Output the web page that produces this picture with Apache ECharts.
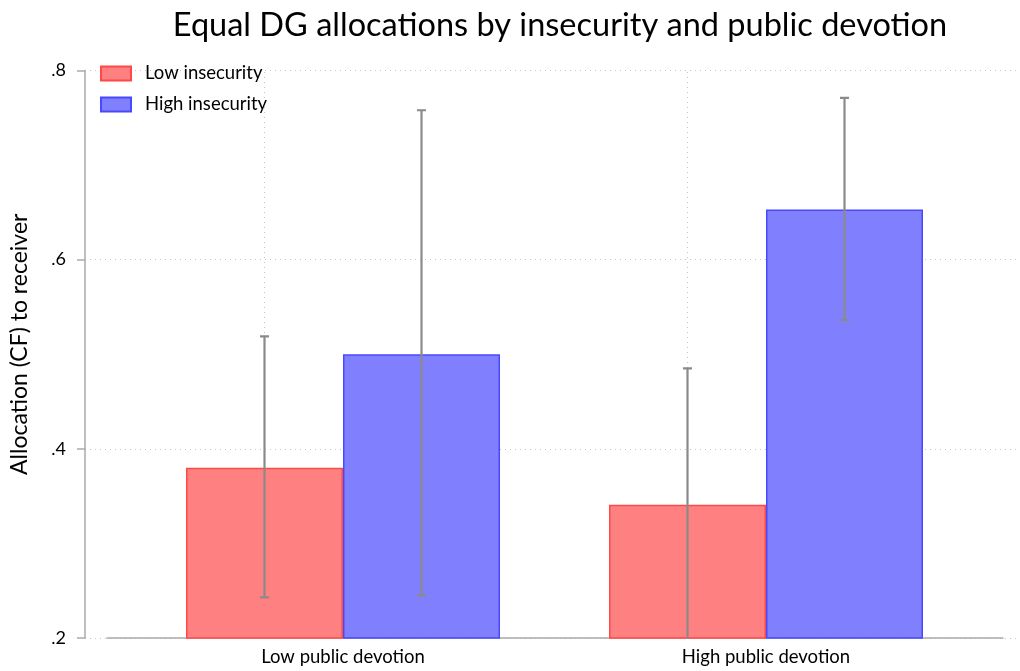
<!DOCTYPE html>
<html>
<head>
<meta charset="utf-8">
<script src="https://cdn.jsdelivr.net/npm/echarts@6/dist/echarts.min.js"></script>
<style>
  html, body { margin: 0; padding: 0; background: #fff; }
  #chart { width: 1020px; height: 671px; }
</style>
</head>
<body>
<div id="chart"></div>
<script>
// Group labels along the x axis
const categories = ['Low public devotion', 'High public devotion'];
// Mean allocation per group
const lowInsecurity = [0.380, 0.341];
const highInsecurity = [0.500, 0.653];
// 95% confidence bounds [lower, upper]
const lowInsecurityCI = [[0.243, 0.519], [0.197, 0.485]];
const highInsecurityCI = [[0.245, 0.758], [0.536, 0.771]];
// Y axis ticks
const yTicks = [0.2, 0.4, 0.6, 0.8];

const FONT = 'Lato, "Open Sans", sans-serif';
const BAR_W = 157;
const RED_FILL = '#ff8080', RED_EDGE = '#ff4848';
const BLUE_FILL = '#8080ff', BLUE_EDGE = '#4848ff';
const ERR_COLOR = '#8a8a8a';

const chart = echarts.init(document.getElementById('chart'), null, { renderer: 'canvas' });

function errorSeries(name, ci, side) {
  return {
    type: 'custom',
    name: name + ' CI',
    xAxisIndex: 0,
    yAxisIndex: 0,
    clip: true,
    silent: true,
    z: 5,
    data: ci.map((d, i) => [i, d[0], d[1]]),
    renderItem: function (params, api) {
      const lo = api.coord([api.value(0), api.value(1)]);
      const hi = api.coord([api.value(0), api.value(2)]);
      const x = lo[0] + side * BAR_W / 2;
      const cap = 4.5;
      const style = { stroke: ERR_COLOR, lineWidth: 2.2 };
      return {
        type: 'group',
        children: [
          { type: 'line', shape: { x1: x, y1: lo[1], x2: x, y2: hi[1] }, style: style },
          { type: 'line', shape: { x1: x - cap, y1: hi[1], x2: x + cap, y2: hi[1] }, style: style },
          { type: 'line', shape: { x1: x - cap, y1: lo[1], x2: x + cap, y2: lo[1] }, style: style }
        ]
      };
    }
  };
}

const option = {
  animation: false,
  backgroundColor: '#ffffff',
  textStyle: { fontFamily: FONT },
  title: {
    text: 'Equal DG allocations by insecurity and public devotion',
    left: 555,
    textAlign: 'center',
    top: 4,
    textStyle: { fontFamily: FONT, fontSize: 32.5, fontWeight: 'normal', color: '#000' }
  },
  legend: {
    orient: 'vertical',
    left: 100,
    top: 64,
    padding: 0,
    itemWidth: 30,
    itemHeight: 14,
    itemGap: 12,
    icon: 'rect',
    data: ['Low insecurity', 'High insecurity'],
    textStyle: { fontFamily: FONT, fontSize: 18.5, color: '#000', padding: [0, 0, 0, 9] }
  },
  grid: [
    // bars
    { left: 131.5, width: 846, top: 70.5, bottom: 33 },
    // y axis and horizontal grid lines
    { left: 80, right: 3, top: 70.5, bottom: 33 },
    // x axis baseline
    { left: 107, right: 17, top: 70.5, bottom: 33 }
  ],
  xAxis: [
    {
      type: 'category',
      gridIndex: 0,
      data: categories,
      axisLine: { show: false },
      axisTick: { show: false },
      axisLabel: { fontFamily: FONT, fontSize: 18.5, color: '#000', margin: 10 },
      splitLine: { show: false }
    },
    { type: 'value', gridIndex: 1, show: false, min: 0, max: 1 },
    {
      type: 'value', gridIndex: 2, min: 0, max: 1,
      axisLine: { show: true, lineStyle: { color: '#aaaaaa', width: 1.5 } },
      axisTick: { show: false },
      axisLabel: { show: false },
      splitLine: { show: false }
    }
  ],
  yAxis: [
    { type: 'value', gridIndex: 0, min: 0.2, max: 0.8, interval: 0.2, show: false },
    {
      type: 'value', gridIndex: 1, min: 0.2, max: 0.8, interval: 0.2,
      name: 'Allocation (CF) to receiver',
      nameLocation: 'middle',
      nameGap: 54,
      nameTextStyle: { fontFamily: FONT, fontSize: 23, color: '#000', padding: [0, 0, 0, 20] },
      axisLine: { show: true, lineStyle: { color: '#aaaaaa', width: 1.5 } },
      axisTick: { show: true, length: 8, lineStyle: { color: '#aaaaaa', width: 1.5 } },
      axisLabel: {
        fontFamily: FONT, fontSize: 18, color: '#000', margin: 19,
        formatter: v => yTicks.includes(+v.toFixed(1)) ? v.toFixed(1).replace(/^0/, '') : ''
      },
      splitLine: { show: true, lineStyle: { color: '#c4c4c4', type: [1, 4], width: 1 } }
    },
    { type: 'value', gridIndex: 2, min: 0, max: 1, show: false }
  ],
  series: [
    {
      name: 'Low insecurity',
      type: 'bar',
      xAxisIndex: 0, yAxisIndex: 0,
      data: lowInsecurity,
      barWidth: BAR_W,
      barGap: '0%',
      itemStyle: { color: RED_FILL, borderColor: RED_EDGE, borderWidth: 1.5 },
      markLine: {
        silent: true,
        symbol: 'none',
        label: { show: false },
        lineStyle: { color: '#c4c4c4', type: [1, 4], width: 1 },
        data: [{ xAxis: 0 }, { xAxis: 1 }],
        z: 1
      },
      z: 2
    },
    {
      name: 'High insecurity',
      type: 'bar',
      xAxisIndex: 0, yAxisIndex: 0,
      data: highInsecurity,
      barWidth: BAR_W,
      barGap: '0%',
      itemStyle: { color: BLUE_FILL, borderColor: BLUE_EDGE, borderWidth: 1.5 },
      z: 2
    },
    errorSeries('Low insecurity', lowInsecurityCI, -1),
    errorSeries('High insecurity', highInsecurityCI, 1)
  ]
};

chart.setOption(option);
</script>
</body>
</html>
